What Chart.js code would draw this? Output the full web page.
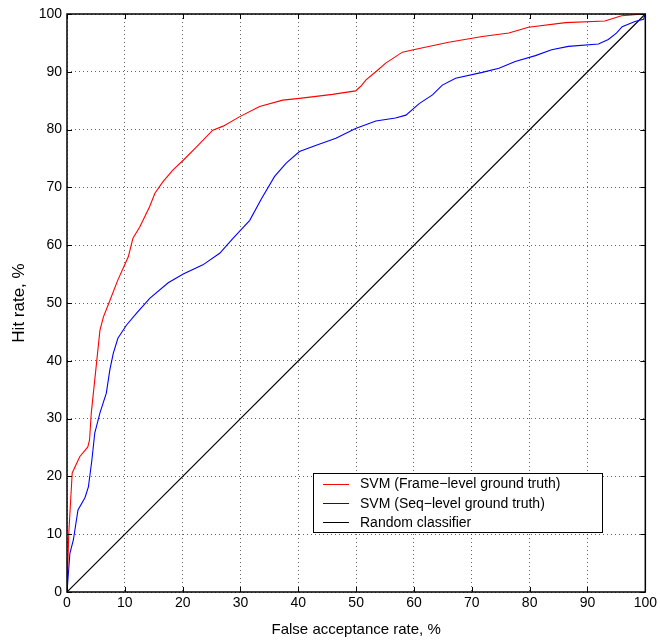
<!DOCTYPE html>
<html>
<head>
<meta charset="utf-8">
<script src="https://cdn.jsdelivr.net/npm/chart.js@4/dist/chart.umd.min.js"></script>
<style>
  html, body { margin: 0; padding: 0; background: #fff; }
  #wrap { width: 660px; height: 642px; }
</style>
</head>
<body>
<div id="wrap"><canvas id="roc" width="660" height="642"></canvas></div>
<script>
// ---------- DATA ----------
const frameX = [0, 0.3, 0.9, 2.2, 3.6, 3.9, 4.2, 4.8, 5.7, 6.3, 7.4, 8.8, 10.6, 11.4, 12.6, 14.3, 15.2, 16.6, 18.3, 20.1,
  22.4, 25.2, 27, 29.8, 33.3, 37.3, 40.2, 45.9, 49.9, 50.8, 51.7, 53.5, 55.1, 58, 60.3, 66, 71.8, 76.4, 79.8, 86.2, 93, 95.9, 99.7, 100];
const frameY = [0, 10, 20.6, 23.4, 25.1, 26.3, 31, 36.7, 45.3, 47.6, 50.4, 54, 58, 61.2, 63.2, 66.7, 69, 71, 73, 74.7,
  77, 79.9, 80.6, 82.2, 84, 85.1, 85.4, 86.1, 86.7, 87.5, 88.6, 90.1, 91.5, 93.4, 93.9, 95.1, 96.1, 96.7, 97.7, 98.5, 98.8, 99.7, 100, 100];

const seqX = [0, 0.5, 1.1, 1.9, 3.1, 3.7, 4.3, 4.8, 5.7, 6.8, 7.4, 8, 8.8, 10.3, 12, 14.3, 17.5, 20.1, 23.5, 26.4,
  28.7, 31.6, 33.6, 35.9, 37.9, 40.2, 43.1, 46.5, 49.9, 53.4, 56.8, 58.6, 60.9, 63.2, 64.9, 67.2, 71.8, 74.7, 77.5,
  81, 83.8, 86.7, 91.9, 93.6, 95, 96, 98.2, 99.7, 100];
const seqY = [0, 6.7, 9, 14.2, 16.3, 18.2, 22.8, 27.5, 31, 34.4, 38.4, 41.3, 43.9, 46.2, 48.2, 50.8, 53.5, 55, 56.6, 58.6,
  61.2, 64.3, 68, 71.9, 74.2, 76.2, 77.3, 78.5, 80.2, 81.5, 82, 82.5, 84.5, 86, 87.7, 88.9, 89.9, 90.6, 91.8,
  92.8, 93.8, 94.4, 94.8, 95.6, 96.7, 97.8, 98.7, 99.1, 100];

const randomX = [0, 100];
const randomY = [0, 100];

const seriesLabels = ["SVM (Frame\u2212level ground truth)", "SVM (Seq\u2212level ground truth)", "Random classifier"];
const seriesColors = ["#ff0000", "#0000ff", "#000000"];
const axisTicks = [0, 10, 20, 30, 40, 50, 60, 70, 80, 90, 100];

function toPoints(xs, ys) {
  return xs.map((x, i) => ({ x: x, y: ys[i] }));
}

// ---------- PLUGINS ----------
// box border + inward tick marks (matlab style)
const frameTicks = {
  id: "frameTicks",
  afterDatasetsDraw(chart) {
    const { ctx, chartArea: a, scales } = chart;
    const len = 5;
    ctx.save();
    ctx.strokeStyle = "#000";
    ctx.lineWidth = 1;
    ctx.beginPath();
    axisTicks.forEach(v => {
      const px = Math.round(scales.x.getPixelForValue(v)) + 0.5;
      ctx.moveTo(px, a.bottom); ctx.lineTo(px, a.bottom - len);
      ctx.moveTo(px, a.top); ctx.lineTo(px, a.top + len);
      const py = Math.round(scales.y.getPixelForValue(v)) + 0.5;
      ctx.moveTo(a.left, py); ctx.lineTo(a.left + len, py);
      ctx.moveTo(a.right, py); ctx.lineTo(a.right - len, py);
    });
    ctx.stroke();
    ctx.lineWidth = 1.5;
    ctx.strokeRect(a.left, a.top, a.right - a.left, a.bottom - a.top);
    ctx.restore();
  }
};

// legend box inside the plot area
const boxLegend = {
  id: "boxLegend",
  afterDraw(chart) {
    const ctx = chart.ctx;
    const x0 = 313, y0 = 473, w = 289, h = 59;
    ctx.save();
    ctx.fillStyle = "#fff";
    ctx.fillRect(x0, y0, w, h);
    ctx.strokeStyle = "#000";
    ctx.lineWidth = 1;
    ctx.strokeRect(x0 + 0.5, y0 + 0.5, w, h);
    ctx.font = "14px 'Liberation Sans', Arial, sans-serif";
    ctx.textBaseline = "middle";
    chart.data.datasets.forEach((ds, i) => {
      const y = y0 + 10.5 + i * 19.3;
      ctx.strokeStyle = ds.borderColor;
      ctx.lineWidth = 1;
      ctx.beginPath();
      ctx.moveTo(323, Math.round(y) + 0.5);
      ctx.lineTo(349, Math.round(y) + 0.5);
      ctx.stroke();
      ctx.fillStyle = "#000";
      ctx.fillText(ds.label, 360, y + 1);
    });
    ctx.restore();
  }
};

// ---------- CHART ----------
const tickFont = { family: "'Liberation Sans', Arial, sans-serif", size: 14 };
const xTitleFont = { family: "'Liberation Sans', Arial, sans-serif", size: 15 };
const yTitleFont = { family: "'Liberation Sans', Arial, sans-serif", size: 17 };
const gridStyle = { drawTicks: false, color: "rgba(0,0,0,0.6)", lineWidth: 1 };
const borderStyle = { display: false, dash: [1, 3] };

new Chart(document.getElementById("roc"), {
  type: "line",
  data: {
    datasets: [
      { label: seriesLabels[0], data: toPoints(frameX, frameY), borderColor: seriesColors[0], borderWidth: 1.1 },
      { label: seriesLabels[1], data: toPoints(seqX, seqY), borderColor: seriesColors[1], borderWidth: 1.1 },
      { label: seriesLabels[2], data: toPoints(randomX, randomY), borderColor: seriesColors[2], borderWidth: 1.2 }
    ]
  },
  options: {
    responsive: false,
    animation: false,
    elements: { point: { radius: 0 }, line: { tension: 0, fill: false } },
    layout: { padding: { left: 0, right: 13, top: 14, bottom: 0 } },
    plugins: { legend: { display: false }, tooltip: { enabled: false } },
    scales: {
      x: {
        type: "linear",
        min: 0, max: 100,
        afterFit: s => { s.height = 50; },
        afterBuildTicks: s => { s.ticks = axisTicks.map(v => ({ value: v })); },
        ticks: { font: tickFont, color: "#000", padding: 3, maxRotation: 0 },
        border: borderStyle,
        grid: gridStyle,
        title: { display: true, text: "False acceptance rate, %", font: xTitleFont, color: "#000", padding: { top: 0, bottom: 3 } }
      },
      y: {
        type: "linear",
        min: 0, max: 100,
        afterFit: s => { s.width = 67; },
        afterBuildTicks: s => { s.ticks = axisTicks.map(v => ({ value: v })); },
        ticks: { font: tickFont, color: "#000", padding: 5 },
        border: borderStyle,
        grid: gridStyle,
        title: { display: true, text: "Hit rate, %", font: yTitleFont, color: "#000", padding: { top: 9, bottom: 0 } }
      }
    }
  },
  plugins: [frameTicks, boxLegend]
});
</script>
</body>
</html>
